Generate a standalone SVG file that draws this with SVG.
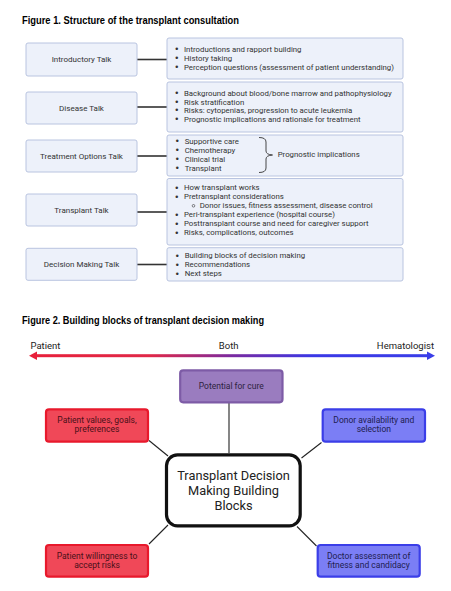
<svg xmlns="http://www.w3.org/2000/svg" width="451" height="591" viewBox="0 0 451 591">
<defs>
<linearGradient id="grad" x1="29" y1="0" x2="435" y2="0" gradientUnits="userSpaceOnUse">
<stop offset="0" stop-color="#e8203a"/>
<stop offset="0.3" stop-color="#e02848"/>
<stop offset="0.5" stop-color="#7a2aa0"/>
<stop offset="0.7" stop-color="#3a38e6"/>
<stop offset="1" stop-color="#3a3ee8"/>
</linearGradient>
<style>
.title{font-family:"Liberation Sans",Arial,sans-serif;font-weight:bold;font-size:10.5px;fill:#000}
.lbox{fill:#edf1fa;stroke:#b9c4e0;stroke-width:1}
.ltxt{font-family:Roboto,"Liberation Sans",sans-serif;font-size:8px;fill:#333;text-anchor:middle}
.btxt{font-family:Roboto,"Liberation Sans",sans-serif;font-size:7.8px;fill:#333}
.bul{font-family:"DejaVu Sans",sans-serif;font-size:8.5px;fill:#333}
.conn{stroke:#333;stroke-width:1.6;fill:none}
.conn2{stroke:#222;stroke-width:1.1;fill:none}
.ctxt{font-family:Roboto,"Liberation Sans",sans-serif;font-size:8.5px;text-anchor:middle}
.axis{font-family:Roboto,"Liberation Sans",sans-serif;font-size:9.5px;fill:#222}
.big{font-family:Roboto,"Liberation Sans",sans-serif;font-size:12.8px;fill:#222;text-anchor:middle}
</style>
</defs>
<rect width="451" height="591" fill="#fff"/>
<text class="title" x="22" y="24" textLength="217" lengthAdjust="spacingAndGlyphs">Figure 1. Structure of the transplant consultation</text>

<g id="connectors">
<line class="conn" x1="137" y1="59.5" x2="167" y2="59.5"/>
<line class="conn" x1="137" y1="107" x2="167" y2="107"/>
<line class="conn" x1="137" y1="156" x2="167" y2="156"/>
<line class="conn" x1="137" y1="212" x2="167" y2="212"/>
<line class="conn" x1="137" y1="264.5" x2="167" y2="264.5"/>
<line class="conn2" x1="229" y1="403" x2="229" y2="453"/>
<line class="conn2" x1="149" y1="440.5" x2="168" y2="456"/>
<line class="conn2" x1="321.5" y1="442.5" x2="301.5" y2="458"/>
<line class="conn2" x1="149" y1="544" x2="168" y2="525"/>
<line class="conn2" x1="316.5" y1="546" x2="297" y2="526.5"/>
</g>

<g id="intro">
<rect class="lbox" x="26" y="43" width="111" height="33" rx="2"/>
<text class="ltxt" x="81.5" y="62.3">Introductory Talk</text>
</g>
<g id="intro-details">
<rect class="lbox" x="167" y="38" width="236" height="41" rx="2"/>
<text class="bul" x="174.3" y="52.3">•</text><text class="btxt" x="184" y="52">Introductions and rapport building</text>
<text class="bul" x="174.3" y="61.3">•</text><text class="btxt" x="184" y="61">History taking</text>
<text class="bul" x="174.3" y="70.1">•</text><text class="btxt" x="184" y="69.8">Perception questions (assessment of patient understanding)</text>
</g>

<g id="disease">
<rect class="lbox" x="26" y="92" width="111" height="32" rx="2"/>
<text class="ltxt" x="81.5" y="110.5">Disease Talk</text>
</g>
<g id="disease-details">
<rect class="lbox" x="167" y="82" width="236" height="50" rx="2"/>
<text class="bul" x="174.3" y="96.3">•</text><text class="btxt" x="184" y="96">Background about blood/bone marrow and pathophysiology</text>
<text class="bul" x="174.3" y="104.8">•</text><text class="btxt" x="184" y="104.5">Risk stratification</text>
<text class="bul" x="174.3" y="113.3">•</text><text class="btxt" x="184" y="113">Risks: cytopenias, progression to acute leukemia</text>
<text class="bul" x="174.3" y="122">•</text><text class="btxt" x="184" y="121.7">Prognostic implications and rationale for treatment</text>
</g>

<g id="treatment">
<rect class="lbox" x="26" y="140" width="111" height="32" rx="2"/>
<text class="ltxt" x="81.5" y="159">Treatment Options Talk</text>
</g>
<g id="treatment-details">
<rect class="lbox" x="167" y="135" width="236" height="41" rx="2"/>
<text class="bul" x="174.8" y="144.3">•</text><text class="btxt" x="184.7" y="144">Supportive care</text>
<text class="bul" x="174.8" y="153.3">•</text><text class="btxt" x="184.7" y="153">Chemotherapy</text>
<text class="bul" x="174.8" y="162.3">•</text><text class="btxt" x="184.7" y="162">Clinical trial</text>
<text class="bul" x="174.8" y="171">•</text><text class="btxt" x="184.7" y="170.7">Transplant</text>
<path d="M259 137.5 Q266 137.5 266 142 L266 151 Q266 154.5 272.5 155 Q266 155.5 266 159 L266 168 Q266 172.5 259 172.5" fill="none" stroke="#333" stroke-width="0.9"/>
<text class="btxt" x="277.7" y="157">Prognostic implications</text>
</g>

<g id="transplant">
<rect class="lbox" x="26" y="194" width="111" height="32" rx="2"/>
<text class="ltxt" x="81.5" y="213">Transplant Talk</text>
</g>
<g id="transplant-details">
<rect class="lbox" x="167" y="178.5" width="236" height="66.5" rx="2"/>
<text class="bul" x="174.3" y="190.7">•</text><text class="btxt" x="184" y="190.4">How transplant works</text>
<text class="bul" x="174.3" y="199.7">•</text><text class="btxt" x="184" y="199.4">Pretransplant considerations</text>
<circle cx="193.5" cy="205.8" r="1.3" fill="none" stroke="#333" stroke-width="0.6"/><text class="btxt" x="199.7" y="208.4">Donor issues, fitness assessment, disease control</text>
<text class="bul" x="174.3" y="217.7">•</text><text class="btxt" x="184" y="217.4">Peri-transplant experience (hospital course)</text>
<text class="bul" x="174.3" y="226.7">•</text><text class="btxt" x="184" y="226.4">Posttransplant course and need for caregiver support</text>
<text class="bul" x="174.3" y="235.7">•</text><text class="btxt" x="184" y="235.4">Risks, complications, outcomes</text>
</g>

<g id="decision">
<rect class="lbox" x="26" y="248.3" width="111" height="32" rx="2"/>
<text class="ltxt" x="81.5" y="267.3">Decision Making Talk</text>
</g>
<g id="decision-details">
<rect class="lbox" x="167" y="247.7" width="236" height="33.3" rx="2"/>
<text class="bul" x="174.8" y="258.7">•</text><text class="btxt" x="184.7" y="258.4">Building blocks of decision making</text>
<text class="bul" x="174.8" y="267.7">•</text><text class="btxt" x="184.7" y="267.4">Recommendations</text>
<text class="bul" x="174.8" y="276.7">•</text><text class="btxt" x="184.7" y="276.4">Next steps</text>
</g>

<text class="title" x="22" y="323.5" textLength="242" lengthAdjust="spacingAndGlyphs">Figure 2. Building blocks of transplant decision making</text>

<g id="axis">
<rect x="34" y="354.2" width="396" height="3" fill="url(#grad)"/>
<polygon points="29,355.7 37,351.5 37,359.9" fill="#e8203a"/>
<polygon points="435,355.7 427,351.5 427,359.9" fill="#3a3ee8"/>
<text class="axis" x="30.5" y="348.5">Patient</text>
<text class="axis" x="228.7" y="348.5" text-anchor="middle">Both</text>
<text class="axis" x="434" y="348.5" text-anchor="end">Hematologist</text>
</g>

<g id="cure">
<rect x="180.2" y="370.3" width="102.3" height="32" rx="3" fill="#9a7cbf" stroke="#7d5ba6" stroke-width="2.2"/>
<text class="ctxt" x="231.3" y="389.3" fill="#2e2340">Potential for cure</text>
</g>

<g id="center">
<rect x="166.5" y="454.8" width="133.7" height="71" rx="11" fill="#fff" stroke="#111" stroke-width="3.2"/>
<text class="big" x="233.5" y="479.5">Transplant Decision</text>
<text class="big" x="233.5" y="494.7">Making Building</text>
<text class="big" x="233.5" y="509.8">Blocks</text>
</g>

<g id="values">
<rect x="46" y="409.3" width="102" height="32.4" rx="3" fill="#f04858" stroke="#e8192c" stroke-width="2.2"/>
<text class="ctxt" x="97" y="422.8" fill="#4a1018">Patient values, goals,</text>
<text class="ctxt" x="97" y="432.3" fill="#4a1018">preferences</text>
</g>

<g id="donor">
<rect x="322.7" y="409.3" width="102.3" height="32.4" rx="3" fill="#7b7ef5" stroke="#3b3ee8" stroke-width="2.2"/>
<text class="ctxt" x="373.8" y="422.8" fill="#1e2050">Donor availability and</text>
<text class="ctxt" x="373.8" y="432.3" fill="#1e2050">selection</text>
</g>

<g id="willingness">
<rect x="46" y="545" width="102" height="31.7" rx="3" fill="#f04858" stroke="#e8192c" stroke-width="2.2"/>
<text class="ctxt" x="97" y="558.6" fill="#4a1018">Patient willingness to</text>
<text class="ctxt" x="97" y="568" fill="#4a1018">accept risks</text>
</g>

<g id="doctor">
<rect x="317.7" y="545" width="102" height="31.7" rx="3" fill="#7b7ef5" stroke="#3b3ee8" stroke-width="2.2"/>
<text class="ctxt" x="368.7" y="558.6" fill="#1e2050">Doctor assessment of</text>
<text class="ctxt" x="368.7" y="568" fill="#1e2050">fitness and candidacy</text>
</g>
</svg>
